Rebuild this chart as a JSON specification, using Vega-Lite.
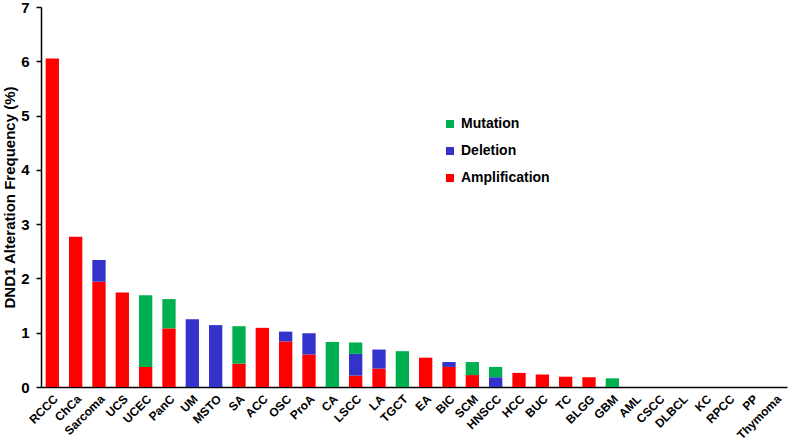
{
  "$schema": "https://vega.github.io/schema/vega-lite/v6.json",
  "width": 746,
  "height": 380,
  "autosize": {"type": "none"},
  "padding": {"left": 41, "top": 7, "right": 3, "bottom": 57},
  "background": "white",
  "config": {
    "view": {"stroke": null},
    "font": "Liberation Sans"
  },
  "data": {
    "values": [
      {"cancer": "RCCC", "type": "Amplification", "value": 6.05},
      {"cancer": "ChCa", "type": "Amplification", "value": 2.77},
      {"cancer": "Sarcoma", "type": "Amplification", "value": 1.94},
      {"cancer": "Sarcoma", "type": "Deletion", "value": 0.40},
      {"cancer": "UCS", "type": "Amplification", "value": 1.74},
      {"cancer": "UCEC", "type": "Amplification", "value": 0.37},
      {"cancer": "UCEC", "type": "Mutation", "value": 1.32},
      {"cancer": "PanC", "type": "Amplification", "value": 1.08},
      {"cancer": "PanC", "type": "Mutation", "value": 0.54},
      {"cancer": "UM", "type": "Deletion", "value": 1.25},
      {"cancer": "MSTO", "type": "Deletion", "value": 1.14},
      {"cancer": "SA", "type": "Amplification", "value": 0.43},
      {"cancer": "SA", "type": "Mutation", "value": 0.69},
      {"cancer": "ACC", "type": "Amplification", "value": 1.09},
      {"cancer": "OSC", "type": "Amplification", "value": 0.84},
      {"cancer": "OSC", "type": "Deletion", "value": 0.18},
      {"cancer": "ProA", "type": "Amplification", "value": 0.60},
      {"cancer": "ProA", "type": "Deletion", "value": 0.39},
      {"cancer": "CA", "type": "Mutation", "value": 0.83},
      {"cancer": "LSCC", "type": "Amplification", "value": 0.21},
      {"cancer": "LSCC", "type": "Deletion", "value": 0.40},
      {"cancer": "LSCC", "type": "Mutation", "value": 0.21},
      {"cancer": "LA", "type": "Amplification", "value": 0.34},
      {"cancer": "LA", "type": "Deletion", "value": 0.35},
      {"cancer": "TGCT", "type": "Mutation", "value": 0.66},
      {"cancer": "EA", "type": "Amplification", "value": 0.54},
      {"cancer": "BIC", "type": "Amplification", "value": 0.37},
      {"cancer": "BIC", "type": "Deletion", "value": 0.09},
      {"cancer": "SCM", "type": "Amplification", "value": 0.22},
      {"cancer": "SCM", "type": "Mutation", "value": 0.24},
      {"cancer": "HNSCC", "type": "Deletion", "value": 0.18},
      {"cancer": "HNSCC", "type": "Mutation", "value": 0.19},
      {"cancer": "HCC", "type": "Amplification", "value": 0.26},
      {"cancer": "BUC", "type": "Amplification", "value": 0.23},
      {"cancer": "TC", "type": "Amplification", "value": 0.19},
      {"cancer": "BLGG", "type": "Amplification", "value": 0.18},
      {"cancer": "GBM", "type": "Mutation", "value": 0.16},
      {"cancer": "AML", "type": "Amplification", "value": 0},
      {"cancer": "CSCC", "type": "Amplification", "value": 0},
      {"cancer": "DLBCL", "type": "Amplification", "value": 0},
      {"cancer": "KC", "type": "Amplification", "value": 0},
      {"cancer": "RPCC", "type": "Amplification", "value": 0},
      {"cancer": "PP", "type": "Amplification", "value": 0},
      {"cancer": "Thymoma", "type": "Amplification", "value": 0}
    ]
  },
  "mark": {"type": "bar"},
  "encoding": {
    "x": {
      "field": "cancer",
      "type": "nominal",
      "scale": {
        "domain": ["RCCC","ChCa","Sarcoma","UCS","UCEC","PanC","UM","MSTO","SA","ACC","OSC","ProA","CA","LSCC","LA","TGCT","EA","BIC","SCM","HNSCC","HCC","BUC","TC","BLGG","GBM","AML","CSCC","DLBCL","KC","RPCC","PP","Thymoma"],
        "paddingInner": 0.43,
        "paddingOuter": 0.2
      },
      "axis": {
        "title": null,
        "labelAngle": -45,
        "labelAlign": "right",
        "labelBaseline": "top",
        "labelFont": "Liberation Sans",
        "labelFontSize": 12,
        "labelFontWeight": "bold",
        "labelColor": "black",
        "ticks": false,
        "labelPadding": 6,
        "domainColor": "black",
        "domainWidth": 1.5,
        "labelOverlap": false
      }
    },
    "y": {
      "field": "value",
      "type": "quantitative",
      "aggregate": "sum",
      "stack": "zero",
      "scale": {"domain": [0, 7], "nice": false},
      "axis": {
        "title": "DND1 Alteration Frequency (%)",
        "titleFont": "Liberation Sans",
        "titleFontSize": 15,
        "titleFontWeight": "bold",
        "titleColor": "black",
        "titlePadding": 3,
        "values": [0,1,2,3,4,5,6,7],
        "labelFont": "Liberation Sans",
        "labelFontSize": 15,
        "labelFontWeight": "bold",
        "labelColor": "black",
        "labelPadding": 7,
        "tickColor": "black",
        "tickSize": 5,
        "tickWidth": 1.5,
        "domainColor": "black",
        "domainWidth": 1.5,
        "grid": false
      }
    },
    "color": {
      "field": "type",
      "type": "nominal",
      "scale": {
        "domain": ["Mutation", "Deletion", "Amplification"],
        "range": ["#00B050", "#3333CC", "#FF0000"]
      },
      "legend": {
        "title": null,
        "orient": "none",
        "legendX": 402,
        "legendY": 110,
        "symbolType": "square",
        "symbolSize": 64,
        "symbolStrokeWidth": 0,
        "labelFont": "Liberation Sans",
        "labelFontSize": 14,
        "labelFontWeight": "bold",
        "labelColor": "black",
        "rowPadding": 13,
        "labelOffset": 4
      }
    },
    "order": {"field": "type", "sort": "ascending"}
  }
}
